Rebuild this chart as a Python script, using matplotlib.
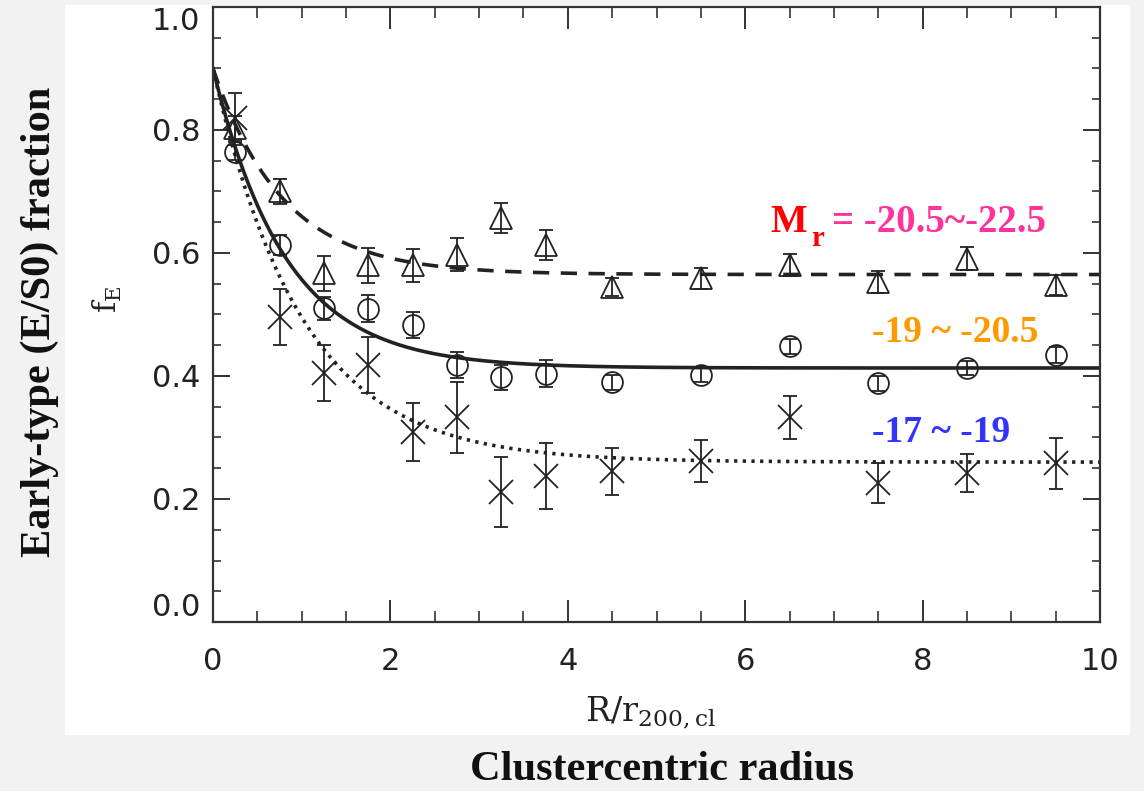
import numpy as np
import matplotlib
matplotlib.use("Agg")
import matplotlib.pyplot as plt
from matplotlib.patches import Rectangle
from matplotlib.ticker import MultipleLocator

# radial bins (R / r200,cl)
r_bins = [0.25, 0.75, 1.25, 1.75, 2.25, 2.75, 3.25, 3.75, 4.5, 5.5, 6.5, 7.5, 8.5, 9.5]

# bright: Mr = -20.5 ~ -22.5 (triangles)
fe_bright = [0.803, 0.700, 0.567, 0.580, 0.580, 0.597, 0.657, 0.613, 0.545, 0.559, 0.580, 0.553, 0.591, 0.548]
err_bright = [0.020, 0.020, 0.028, 0.028, 0.027, 0.027, 0.025, 0.024, 0.015, 0.017, 0.018, 0.018, 0.018, 0.016]

# intermediate: -19 ~ -20.5 (circles)
fe_mid = [0.764, 0.613, 0.510, 0.509, 0.483, 0.418, 0.398, 0.404, 0.390, 0.402, 0.448, 0.388, 0.413, 0.434]
err_mid = [0.012, 0.016, 0.019, 0.022, 0.021, 0.021, 0.020, 0.022, 0.012, 0.012, 0.012, 0.012, 0.012, 0.013]

# faint: -17 ~ -19 (crosses)
fe_faint = [0.820, 0.496, 0.405, 0.418, 0.309, 0.333, 0.211, 0.237, 0.245, 0.262, 0.333, 0.226, 0.242, 0.258]
err_faint = [0.040, 0.045, 0.046, 0.046, 0.047, 0.058, 0.057, 0.054, 0.038, 0.034, 0.035, 0.032, 0.031, 0.041]

# exponential fits: f = asym + amp * exp(-R / scale)
fit_start = 0.90
asym_bright, scale_bright = 0.565, 0.79
asym_mid, scale_mid = 0.413, 0.82
asym_faint, scale_faint = 0.260, 1.00

fig = plt.figure(figsize=(11.44, 7.91), dpi=100, facecolor="#f2f2f2")
fig.add_artist(Rectangle((65 / 1144, 1 - 735 / 791), (1130 - 65) / 1144, (735 - 5) / 791,
                         transform=fig.transFigure, facecolor="white", edgecolor="none", zorder=0))

ax = fig.add_axes([213 / 1144, 1 - 622 / 791, 887 / 1144, 615 / 791])
ax.set_facecolor("white")

ink = "#222222"
rr = np.linspace(0, 10, 400)
ax.plot(rr, asym_bright + (fit_start - asym_bright) * np.exp(-rr / scale_bright),
        color=ink, lw=2.6, dashes=(4.5, 3.2))
ax.plot(rr, asym_mid + (fit_start - asym_mid) * np.exp(-rr / scale_mid),
        color=ink, lw=2.6)
ax.plot(rr, asym_faint + (fit_start - asym_faint) * np.exp(-rr / scale_faint),
        color=ink, lw=2.6, dashes=(0.9, 1.5))

common = dict(color=ink, mfc="none", mec=ink, ecolor=ink, elinewidth=1.3, capsize=5,
              capthick=1.3, ls="none", mew=1.3)
ax.errorbar(r_bins, fe_bright, yerr=err_bright, fmt="^", ms=16, **common)
ax.errorbar(r_bins, fe_mid, yerr=err_mid, fmt="o", ms=15, **common)
ax.errorbar(r_bins, fe_faint, yerr=err_faint, fmt="x", ms=17, **common)

ax.set_xlim(0, 10)
ax.set_ylim(0, 1.0)
ax.xaxis.set_major_locator(MultipleLocator(2))
ax.xaxis.set_minor_locator(MultipleLocator(0.5))
ax.yaxis.set_minor_locator(MultipleLocator(0.05))
ax.set_yticks([0.0, 0.2, 0.4, 0.6, 0.8, 1.0])
ax.set_yticklabels(["0.0", "0.2", "0.4", "0.6", "0.8", "1.0"])

for s in ax.spines.values():
    s.set_linewidth(1.6)
    s.set_color("#333333")
ax.tick_params(which="both", direction="in", top=True, right=True, colors="#333333",
               labelsize=22, labelcolor="#222222")
ax.tick_params(axis="x", which="major", length=16, width=1.4, pad=18)
ax.tick_params(axis="x", which="minor", length=8, width=1.2)
ax.tick_params(axis="y", which="major", length=12, width=1.4, pad=9)
ax.tick_params(axis="y", which="minor", length=6, width=1.2)
ylabs = ax.get_yticklabels()
ylabs[0].set_va("bottom")
ylabs[-1].set_va("top")

ax.set_xlabel(r"$\mathregular{R/r_{200,cl}}$", fontsize=24, color="#222222", family="DejaVu Serif")
ax.xaxis.set_label_coords(0.493, -0.118)
ax.set_ylabel(r"$\mathregular{f_E}$", fontsize=22, color="#222222", family="DejaVu Serif")
ax.yaxis.set_label_coords(-0.1, 0.524)

serif = "Liberation Serif"
ax.text(6.28, 0.634, "M", color="#ff0000", fontsize=28, fontweight="bold", family=serif)
ax.text(6.75, 0.612, "r", color="#ff0000", fontsize=21, fontweight="bold", family=serif)
ax.text(6.98, 0.634, "= -20.5~-22.5", color="#ff3399", fontsize=28, fontweight="bold", family=serif)
ax.text(7.43, 0.455, "-19 ~ -20.5", color="#ff9900", fontsize=27, fontweight="bold", family=serif)
ax.text(7.43, 0.293, "-17 ~ -19", color="#3333ff", fontsize=27, fontweight="bold", family=serif)

fig.text(0.035, 0.593, "Early-type (E/S0) fraction", rotation=90, ha="center", va="center",
         fontsize=30.5, fontweight="bold", family=serif, color="#111111")
fig.text(0.579, 0.0265, "Clustercentric radius", ha="center", va="center",
         fontsize=30.5, fontweight="bold", family=serif, color="#111111")

fig.savefig("out.png", dpi=100, facecolor=fig.get_facecolor())
